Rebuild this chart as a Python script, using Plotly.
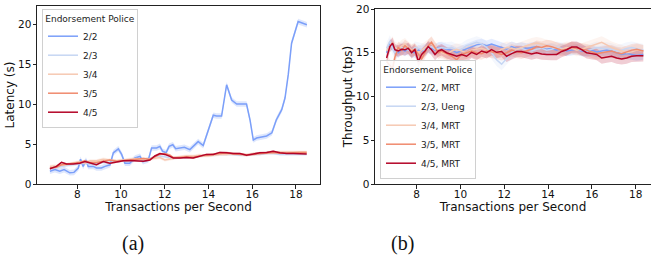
import plotly.graph_objects as go

# ---------------- data ----------------
series_names_a = ["2/2", "2/3", "3/4", "3/5", "4/5"]
series_names_b = ["2/2, MRT", "2/3, Ueng", "3/4, MRT", "3/5, MRT", "4/5, MRT"]
colors = ["#7b9ff9", "#c6d6f3", "#f6c9b2", "#f08a6d", "#b40426"]

# (a) latency
lat_22_x = [6.75, 6.98, 7.2, 7.4, 7.66, 7.85, 8.05, 8.15, 8.27, 8.4, 8.5, 8.73, 8.88, 9.1, 9.27,
            9.5, 9.65, 9.88, 10.03, 10.18, 10.4, 10.64, 10.87, 11.0, 11.25, 11.4, 11.63, 11.78,
            11.9, 12.06, 12.2, 12.37, 12.5, 12.75, 12.9, 13.15, 13.3, 13.53, 13.76, 14.0, 14.22,
            14.37, 14.6, 14.83, 15.06, 15.29, 15.5, 15.74, 15.9, 16.05, 16.2, 16.43, 16.66, 16.9,
            17.1, 17.35, 17.5, 17.65, 17.8, 18.1, 18.5]
lat_22_y = [1.6, 1.8, 1.6, 1.8, 1.4, 1.45, 2.0, 3.1, 2.2, 3.0, 2.2, 2.2, 2.0, 2.0, 2.2,
            2.4, 3.9, 4.4, 3.7, 2.6, 2.6, 3.25, 3.45, 2.8, 3.0, 4.5, 4.5, 4.7,
            4.1, 3.9, 4.7, 4.9, 4.4, 4.5, 4.6, 4.3, 4.7, 5.3, 4.8, 6.8, 8.6,
            8.5, 8.5, 12.4, 10.5, 10.0, 10.0, 10.0, 8.0, 5.5, 5.75, 5.9, 6.0, 6.4,
            8.0, 9.3, 10.75, 13.7, 17.6, 20.3, 19.9]

lat_x = [6.75, 7.05, 7.28, 7.51, 7.82, 8.12, 8.35, 8.58, 8.88, 9.19, 9.49, 9.8, 10.1, 10.41,
         10.71, 11.02, 11.32, 11.55, 11.78, 12.01, 12.24, 12.39, 12.7, 13.0, 13.3, 13.61,
         13.91, 14.22, 14.52, 14.83, 15.13, 15.44, 15.74, 16.05, 16.35, 16.66, 16.96, 17.27,
         17.57, 17.88, 18.18, 18.49]
lat_23_y = [1.9, 2.1, 2.2, 2.3, 2.4, 2.5, 2.6, 2.5, 2.6, 2.7, 2.7, 2.8, 2.9, 2.9, 3.0, 3.1,
            3.2, 3.4, 3.5, 3.4, 3.3, 3.2, 3.3, 3.3, 3.4, 3.5, 3.6, 3.6, 3.7, 3.7, 3.7, 3.6,
            3.6, 3.7, 3.7, 3.8, 3.8, 3.7, 3.7, 3.7, 3.7, 3.7]
lat_34_y = [2.2, 2.3, 2.3, 2.4, 2.6, 2.8, 2.6, 2.9, 2.9, 3.1, 3.0, 2.9, 3.0, 3.1, 3.2, 3.0,
            3.1, 3.2, 3.3, 3.0, 3.1, 3.2, 3.4, 3.5, 3.5, 3.6, 3.5, 3.6, 3.7, 3.7, 3.8, 3.7,
            3.6, 3.8, 3.8, 3.9, 3.9, 4.0, 4.0, 4.0, 4.0, 4.0]
lat_35_y = [2.0, 2.1, 2.4, 2.5, 2.6, 2.7, 2.9, 2.7, 2.7, 2.9, 3.0, 2.85, 2.9, 3.0, 3.1, 3.2,
            3.1, 3.4, 3.7, 3.8, 3.6, 3.3, 3.3, 3.4, 3.35, 3.5, 3.6, 3.7, 3.8, 3.9, 3.75, 3.7,
            3.65, 3.7, 3.8, 3.85, 3.95, 3.85, 3.9, 3.9, 3.95, 3.95]
lat_45_y = [1.9, 2.2, 2.7, 2.5, 2.5, 2.6, 2.8, 2.6, 2.4, 2.8, 2.6, 2.75, 2.9, 2.95, 2.9, 2.85,
            3.0, 3.5, 3.8, 3.7, 3.45, 3.25, 3.25, 3.3, 3.25, 3.5, 3.7, 3.7, 3.95, 3.9, 3.8, 3.8,
            3.6, 3.75, 3.9, 3.95, 4.1, 3.9, 3.8, 3.8, 3.75, 3.75]
lat_ci = [0.35, 0.15, 0.2, 0.15, 0.12]

# (b) throughput
tp_x = [6.63, 6.78, 6.9, 7.01, 7.16, 7.32, 7.47, 7.62, 7.77, 7.92, 8.08, 8.23, 8.38, 8.53,
        8.68, 8.84, 8.99, 9.14, 9.37, 9.6, 9.83, 10.05, 10.28, 10.51, 10.74, 10.97, 11.2,
        11.42, 11.65, 11.88, 12.11, 12.34, 12.57, 12.79, 13.02, 13.25, 13.48, 13.71, 13.94,
        14.16, 14.39, 14.62, 14.85, 15.08, 15.31, 15.53, 15.76, 15.99, 16.22, 16.45, 16.68,
        16.9, 17.13, 17.36, 17.59, 17.82, 18.05, 18.35]
tp_22_y = [15.0, 16.0, 15.8, 15.3, 15.0, 15.4, 15.2, 15.5, 15.1, 15.0, 15.3, 15.2, 15.4, 15.6,
           15.5, 15.3, 15.6, 15.6, 15.4, 15.3, 15.0, 15.2, 15.4, 15.6, 15.9, 16.0, 15.8, 16.0,
           15.8, 15.6, 15.4, 15.7, 15.5, 15.6, 15.5, 15.6, 15.7, 15.5, 15.4, 15.5, 15.3, 15.5,
           15.2, 15.3, 15.4, 15.2, 15.2, 15.3, 15.1, 15.2, 15.3, 15.2, 15.0, 14.8, 14.9, 14.8,
           14.7, 14.8]
tp_23_y = [15.5, 16.3, 15.5, 15.0, 15.3, 15.6, 15.5, 15.3, 15.2, 15.6, 15.5, 15.4, 15.3, 15.5,
           15.7, 15.4, 15.5, 15.6, 15.5, 15.6, 15.3, 15.4, 15.8, 16.0, 16.2, 16.0, 15.6, 15.0,
           14.2, 13.7, 14.4, 15.0, 15.4, 15.5, 15.3, 15.2, 15.4, 15.5, 15.3, 15.4, 15.6, 15.5,
           15.4, 15.5, 15.6, 15.3, 15.2, 15.4, 15.6, 15.5, 15.5, 15.4, 15.2, 15.3, 15.5, 15.6,
           15.5, 15.3]
tp_34_y = [15.2, 15.8, 16.2, 15.6, 15.4, 15.8, 16.0, 15.6, 15.3, 15.4, 15.0, 15.3, 15.6, 15.9,
           16.1, 15.5, 15.2, 15.0, 14.8, 15.2, 15.4, 15.2, 15.0, 15.3, 15.4, 15.5, 15.3, 15.2,
           15.0, 15.4, 15.6, 15.5, 15.4, 15.6, 15.8, 16.0, 16.1, 16.0, 15.8, 15.7, 15.5, 15.4,
           15.6, 15.5, 15.3, 15.4, 15.6, 15.8, 16.0, 16.2, 15.9, 15.6, 15.4, 15.2, 15.0, 15.1,
           15.3, 15.2]
tp_35_y = [14.0, 13.6, 13.2, 14.5, 15.6, 15.3, 15.8, 15.5, 15.2, 15.4, 14.8, 14.3, 15.0, 15.8,
           16.2, 15.6, 15.0, 15.2, 14.9, 14.6, 14.2, 14.8, 15.0, 15.2, 15.0, 14.9, 15.2, 15.1,
           15.0, 14.8, 15.0, 15.3, 15.1, 15.0, 15.2, 15.4, 15.7, 15.6, 15.8, 15.7, 15.5, 15.3,
           15.4, 15.6, 15.5, 15.4, 15.3, 15.1, 14.9, 15.0, 15.1, 15.2, 15.0, 14.9, 15.1, 15.3,
           15.4, 15.2]
tp_45_y = [14.4, 15.7, 16.1, 15.35, 15.2, 15.4, 15.35, 15.5, 15.0, 15.35, 14.0, 14.8, 15.2, 15.7,
           15.35, 14.8, 15.2, 15.35, 15.0, 14.8, 14.6, 14.8, 14.6, 15.05, 14.8, 15.2, 15.0, 15.35,
           15.05, 15.15, 14.6, 14.9, 15.15, 15.15, 15.0, 14.85, 15.0, 14.85, 14.8, 14.8, 14.8,
           15.15, 15.35, 15.65, 15.65, 15.35, 15.0, 14.9, 14.8, 14.4, 14.5, 14.6, 14.4, 14.3,
           14.4, 14.6, 14.65, 14.65]
tp_ci = [0.6, 0.7, 0.7, 0.7, 0.65]

y_ticks = [0, 5, 10, 15, 20]
x_ticks = [8, 10, 12, 14, 16, 18]


def rgba(hexc, a):
    h = hexc.lstrip("#")
    r, g, b = int(h[0:2], 16), int(h[2:4], 16), int(h[4:6], 16)
    return f"rgba({r},{g},{b},{a})"


fig = go.Figure()

lat_sets = [(lat_22_x, lat_22_y), (lat_x, lat_23_y), (lat_x, lat_34_y), (lat_x, lat_35_y), (lat_x, lat_45_y)]
tp_sets = [tp_22_y, tp_23_y, tp_34_y, tp_35_y, tp_45_y]

# bands first
for i, (xs, ys) in enumerate(lat_sets):
    up = [v + lat_ci[i] for v in ys]
    lo = [v - lat_ci[i] for v in ys]
    fig.add_trace(go.Scatter(x=xs + xs[::-1], y=up + lo[::-1], fill="toself",
                             fillcolor=rgba(colors[i], 0.25), line=dict(width=0),
                             hoverinfo="skip", showlegend=False, xaxis="x", yaxis="y"))
for i, ys in enumerate(tp_sets):
    up = [v + tp_ci[i] for v in ys]
    lo = [v - tp_ci[i] for v in ys]
    fig.add_trace(go.Scatter(x=tp_x + tp_x[::-1], y=up + lo[::-1], fill="toself",
                             fillcolor=rgba(colors[i], 0.2), line=dict(width=0),
                             hoverinfo="skip", showlegend=False, xaxis="x2", yaxis="y2"))

for i, (xs, ys) in enumerate(lat_sets):
    fig.add_trace(go.Scatter(x=xs, y=ys, mode="lines", name=series_names_a[i],
                             line=dict(color=colors[i], width=1.5),
                             xaxis="x", yaxis="y", legend="legend"))
for i, ys in enumerate(tp_sets):
    fig.add_trace(go.Scatter(x=tp_x, y=ys, mode="lines", name=series_names_b[i],
                             line=dict(color=colors[i], width=1.5),
                             xaxis="x2", yaxis="y2", legend="legend2"))

W, H = 651, 258
tickfont = dict(family="DejaVu Sans", size=10.5, color="#111")
titlefont = dict(family="DejaVu Sans", size=12, color="#111")
axis_common = dict(showline=True, linecolor="#222", linewidth=1, ticks="outside", ticklen=3.5,
                   tickwidth=1, tickcolor="#222", showgrid=False, zeroline=False,
                   tickfont=tickfont, automargin=False)

legend_common = dict(bgcolor="rgba(255,255,255,0.85)", bordercolor="#d0d0d0", borderwidth=1,
                     font=dict(family="DejaVu Sans", size=9, color="#222"),
                     title=dict(text="Endorsement Police", side="top center",
                                font=dict(family="DejaVu Sans", size=9, color="#222")),
                     tracegroupgap=0, itemwidth=30)

fig.update_layout(
    width=W, height=H, margin=dict(l=0, r=0, t=0, b=0, autoexpand=False),
    paper_bgcolor="white", plot_bgcolor="white",
    font=dict(family="DejaVu Sans", color="#111"),
    xaxis=dict(domain=[37 / W, 320 / W], range=[6.16, 19.1], tickvals=x_ticks, mirror=True,
               anchor="y", ticklabelstandoff=-3,
               title=dict(text="Transactions per Second", font=titlefont, standoff=0),
               **axis_common),
    yaxis=dict(domain=[1 - 184 / H, 1 - 6 / H], range=[0, 22.25], tickvals=y_ticks, mirror=True,
               anchor="x", ticklabelstandoff=-1,
               title=dict(text="Latency (s)", font=titlefont, standoff=0),
               **axis_common),
    xaxis2=dict(domain=[375 / W, 1.0], range=[6.1, 18.7], tickvals=x_ticks, mirror=True,
                anchor="y2", ticklabelstandoff=-3,
                title=dict(text="Transactions per Second", font=titlefont, standoff=0),
                **axis_common),
    yaxis2=dict(domain=[1 - 184 / H, 1 - 9 / H], range=[0, 20], tickvals=y_ticks,
                anchor="x2", ticklabelstandoff=-1,
                title=dict(text="Throughput (tps)", font=titlefont, standoff=0),
                **axis_common),
    legend=dict(x=42 / W, y=1 - 9 / H, xanchor="left", yanchor="top", **legend_common),
    legend2=dict(x=380 / W, y=1 - 179 / H, xanchor="left", yanchor="bottom", **legend_common),
    annotations=[
        dict(text="(a)", x=133 / W, y=1 - 243 / H, xref="paper", yref="paper",
             xanchor="center", yanchor="middle", showarrow=False,
             font=dict(family="Liberation Serif", size=20, color="#111")),
        dict(text="(b)", x=402 / W, y=1 - 243 / H, xref="paper", yref="paper",
             xanchor="center", yanchor="middle", showarrow=False,
             font=dict(family="Liberation Serif", size=20, color="#111")),
    ],
)

fig.write_html("out.html", config={"displayModeBar": False},
               post_script="document.body.style.margin='0';document.body.style.overflow='hidden';")
